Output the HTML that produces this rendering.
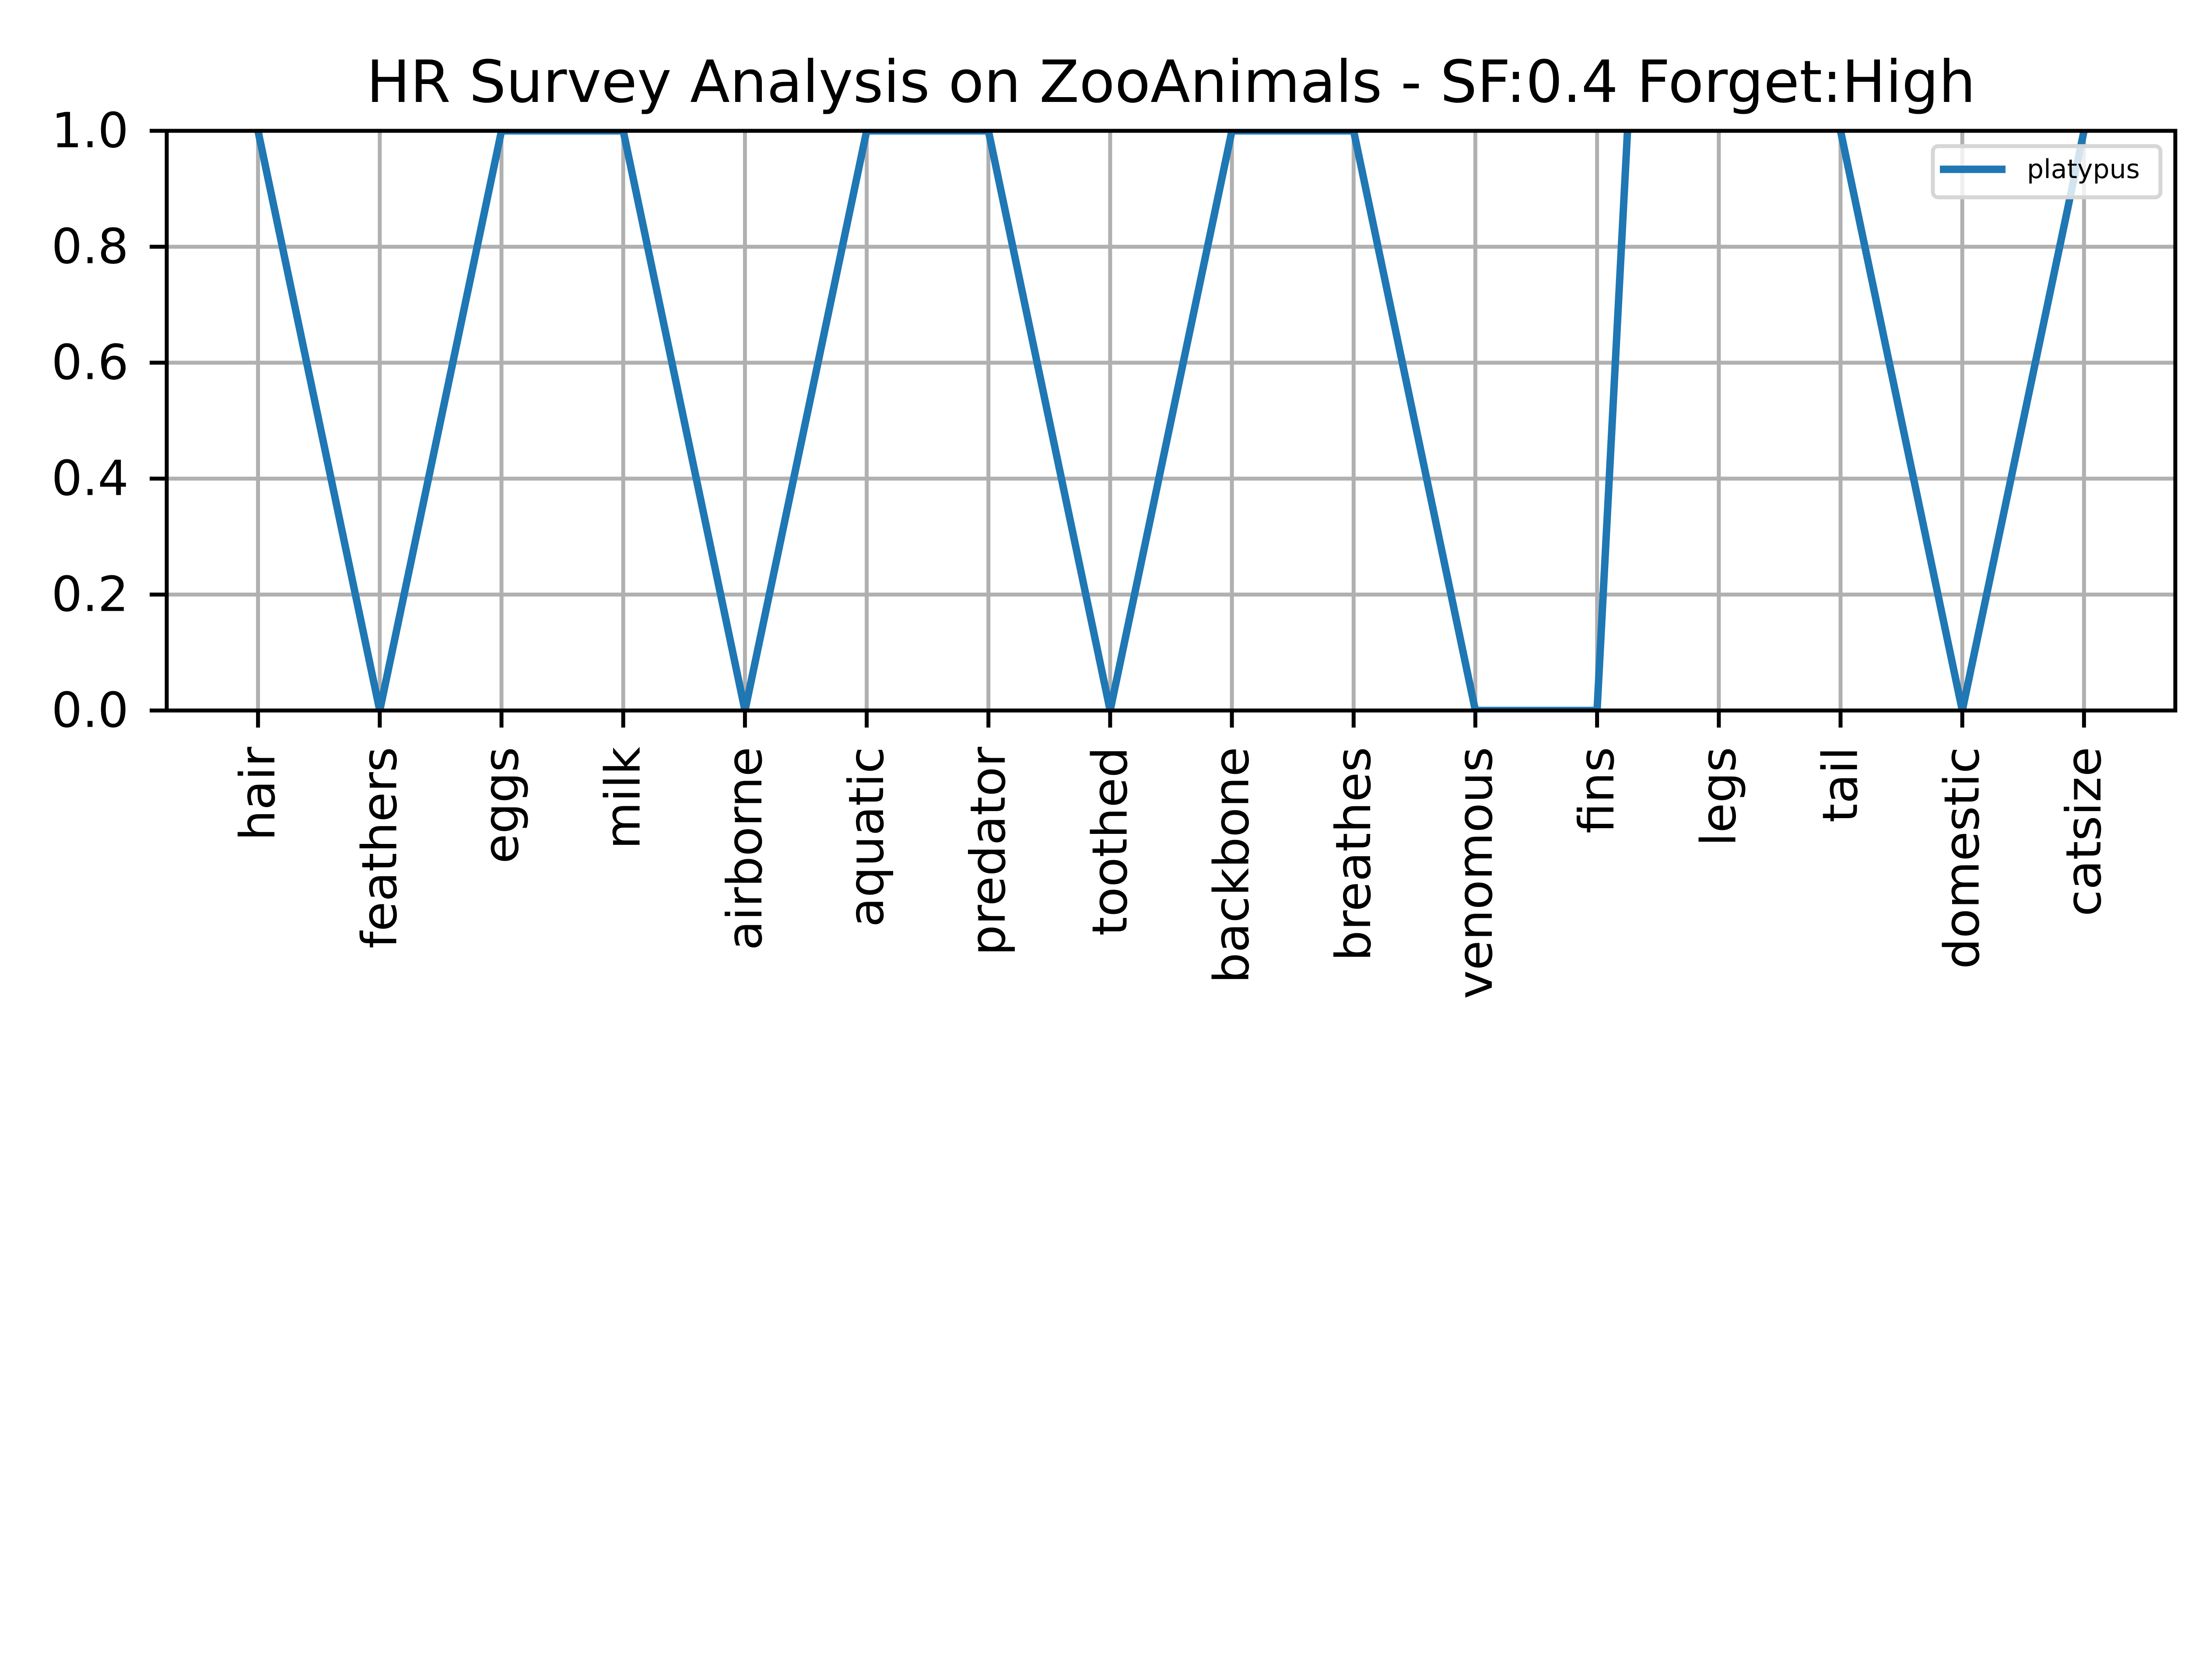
<!DOCTYPE html>
<html><head><meta charset="utf-8"><style>
html,body{margin:0;padding:0;background:#fff;}
svg{display:block;font-family:"DejaVu Sans","Liberation Sans",sans-serif;}
</style></head><body>
<svg id="chart" width="5120" height="3840" viewBox="0 0 5120 3840" xmlns="http://www.w3.org/2000/svg">
<rect width="5120" height="3840" fill="#fff"/>
<defs><clipPath id="clip"><rect x="381" y="299" width="4590" height="1325"/></clipPath></defs>
<text x="2676" y="233" font-size="133" text-anchor="middle">HR Survey Analysis on ZooAnimals - SF:0.4 Forget:High</text>
<g id="grid"></g>
<g id="series" clip-path="url(#clip)"></g>
<rect x="381" y="299" width="4590" height="1325" fill="none" stroke="#000" stroke-width="9"/>
<g id="ticks"></g>
<g>
<rect x="4417" y="334" width="520" height="117" rx="12" fill="#fff" fill-opacity="0.8" stroke="#d6d6d6" stroke-width="9"/>
<line x1="4433" y1="387" x2="4583" y2="387" stroke="#1f77b4" stroke-width="17"/>
<text x="4632" y="387" font-size="60" dominant-baseline="central">platypus</text>
</g>
</svg>
<script>
const categories = ["hair","feathers","eggs","milk","airborne","aquatic","predator","toothed","backbone","breathes","venomous","fins","legs","tail","domestic","catsize"];
const platypusValues = [1,0,1,1,0,1,1,0,1,1,0,0,4,1,0,1];
const yTicks = [0,0.2,0.4,0.6,0.8,1.0];
const yTickLabels = ["0.0","0.2","0.4","0.6","0.8","1.0"];

const NS = "http://www.w3.org/2000/svg";
const L = 381, R = 4971, T = 299, B = 1624;
const xMin = -0.75, xMax = categories.length - 1 + 0.75;
function xs(i){ return L + (i - xMin) / (xMax - xMin) * (R - L); }
function ys(v){ return B - (v - 0) / (1 - 0) * (B - T); }
function mk(tag, attrs, parent){ const e = document.createElementNS(NS, tag); for (const k in attrs) e.setAttribute(k, attrs[k]); parent.appendChild(e); return e; }

const grid = document.getElementById('grid');
const ticks = document.getElementById('ticks');
const series = document.getElementById('series');

categories.forEach((c, i) => {
  const x = xs(i);
  const g = mk('line', {x1:x, y1:T, x2:x, y2:B, stroke:'#b0b0b0', 'stroke-width':9}, grid);
  
  
  const t = mk('line', {x1:x, y1:B, x2:x, y2:B+39, stroke:'#000', 'stroke-width':9}, ticks);
  
  
  const lb = mk('text', {x:x, y:1707, 'font-size':111, 'text-anchor':'end', 'dominant-baseline':'central', transform:'rotate(-90 ' + x + ' 1707)'}, ticks);
  lb.textContent = c;
  
  
});

yTicks.forEach((v, i) => {
  const y = ys(v);
  const g = mk('line', {x1:L, y1:y, x2:R, y2:y, stroke:'#b0b0b0', 'stroke-width':9}, grid);
  
  
  const t = mk('line', {x1:L-39, y1:y, x2:L, y2:y, stroke:'#000', 'stroke-width':9}, ticks);
  
  
  const lb = mk('text', {x:294, y:y, 'font-size':111, 'text-anchor':'end', 'dominant-baseline':'central'}, ticks);
  lb.textContent = yTickLabels[i];
  
  
});

const pts = platypusValues.map((v, i) => xs(i).toFixed(1) + ',' + ys(v).toFixed(1)).join(' ');
const line = mk('polyline', {points:pts, fill:'none', stroke:'#1f77b4', 'stroke-width':17, 'stroke-linejoin':'round', 'stroke-linecap':'square'}, series);


</script>
</body></html>
